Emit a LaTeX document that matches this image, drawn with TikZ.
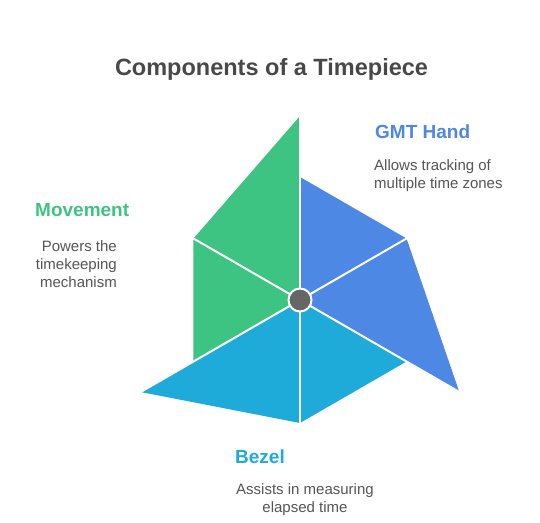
\documentclass[tikz,border=0pt]{standalone}
\usepackage{fontspec}
\setmainfont{Liberation Sans}
\usetikzlibrary{calc}
\definecolor{tpInk}{HTML}{484848}
\definecolor{tpGrey}{HTML}{555555}
\definecolor{tpHub}{HTML}{666666}
\definecolor{tpGreen}{HTML}{3EC482}
\definecolor{tpBlue}{HTML}{4D88E4}
\definecolor{tpCyan}{HTML}{1FABD9}
\tikzset{
  spoke/.style  ={draw=white,line width=2pt},
  hub/.style    ={circle,fill=tpHub,draw=white,line width=2pt,
                  minimum size=23pt,inner sep=0pt},
  ttl/.style    ={font=\fontsize{23.5}{28}\selectfont\bfseries,text=tpInk,inner sep=0pt},
  head/.style   ={font=\fontsize{19}{22}\selectfont\bfseries,inner sep=0pt},
  desc/.style   ={font=\fontsize{15}{18}\selectfont,text=tpGrey,inner sep=0pt},
}
\begin{document}
\begin{tikzpicture}[x=1pt,y=1pt]
\useasboundingbox (0,0) rectangle (540,-522);
\coordinate (c) at (300,-300);

%% the three segments, each of two triangles
\fill[tpGreen] (c) -- ($(c)+(90:184)$) -- ($(c)+(150:123)$) -- ($(c)+(210:123)$) -- cycle;
\fill[tpBlue]  (c) -- ($(c)+(90:123)$) -- ($(c)+(30:123)$) -- ($(c)+(-30:184)$) -- cycle;
\fill[tpCyan]  (c) -- ($(c)+(-30:123)$) -- ($(c)+(-90:123)$) -- ($(c)+(210:184)$) -- cycle;

\foreach \a in {90,30,-30,-90,210,150}
  \draw[spoke] (c) -- ($(c)+(\a:186)$);

\node[hub] (hub) at (c) {};

\node[ttl,anchor=base] (title) at (271.5,-75.7) {Components of a Timepiece};

%% descriptions: base anchor sits on the last line
\node[head,text=tpGreen,anchor=base west] (move) at (35,-216.7) {Movement};
\node[desc,anchor=base east,align=right] (movetxt) at (117,-287)
  {Powers the\\timekeeping\\mechanism};

\node[head,text=tpBlue,anchor=base west] (gmt) at (375,-138) {GMT Hand};
\node[desc,anchor=base west,align=left] (gmttxt) at (374,-188.5)
  {Allows tracking of\\multiple time zones};

\node[head,text=tpCyan,anchor=base west] (bezel) at (235,-463) {Bezel};
\node[desc,anchor=base,align=center] (bezeltxt) at (305,-512)
  {Assists in measuring\\elapsed time};
\end{tikzpicture}
\end{document}
